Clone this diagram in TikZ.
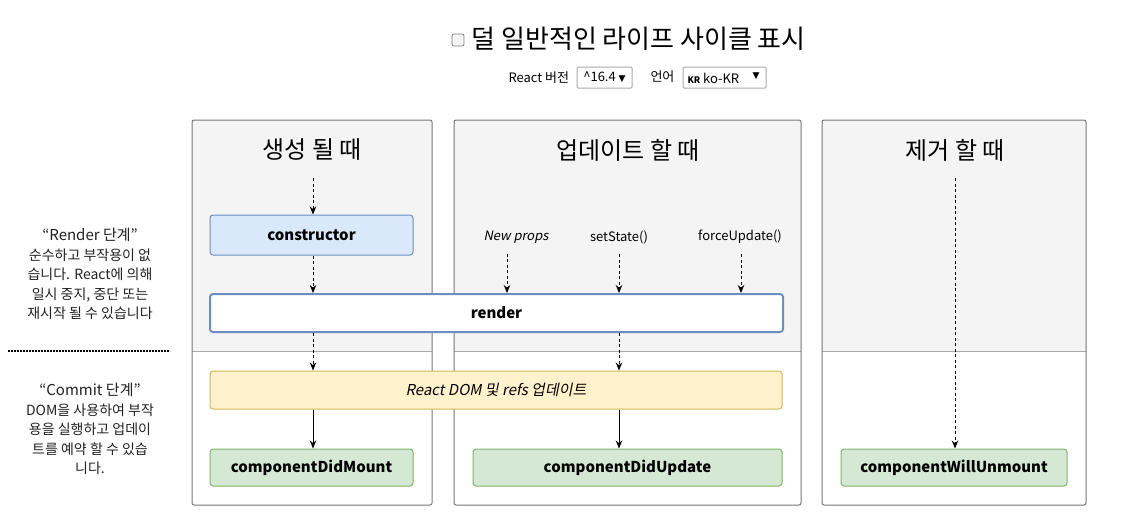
\documentclass[tikz,border=0pt]{standalone}
\usepackage{fontspec}
\setmainfont{Noto Sans CJK KR}[AutoFakeSlant=0.2]
\newfontfamily\symfont{DejaVu Sans}
\usetikzlibrary{arrows.meta}
\definecolor{panelgray}{HTML}{F4F4F4}
\definecolor{panelline}{HTML}{777777}
\definecolor{divline}{HTML}{AAAAAA}
\definecolor{bluefill}{HTML}{DAE8FC}
\definecolor{bluedraw}{HTML}{6C8EBF}
\definecolor{yellowfill}{HTML}{FFF2CC}
\definecolor{yellowdraw}{HTML}{D6B656}
\definecolor{greenfill}{HTML}{D5E8D4}
\definecolor{greendraw}{HTML}{82B366}
\definecolor{textgray}{HTML}{222222}
\tikzset{
	panel/.style = {
		draw=panelline,
		rounded corners=2pt,
		line width=1pt
	},
	stage/.style = {
		align=center,
		inner sep=0pt,
		rounded corners=3pt,
		line width=1pt,
		font=\fontsize{15}{18}\selectfont\bfseries
	},
	node_ctor/.style = {
		stage,
		draw=bluedraw,
		fill=bluefill,
		minimum width=203pt,
		minimum height=40pt
	},
	node_render/.style = {
		stage,
		draw=bluedraw,
		fill=white,
		line width=2pt,
		minimum width=573pt,
		minimum height=38pt
	},
	node_dom/.style = {
		stage,
		draw=yellowdraw,
		fill=yellowfill,
		font=\fontsize{15}{18}\selectfont\itshape,
		minimum width=572pt,
		minimum height=38pt
	},
	node_did/.style = {
		stage,
		draw=greendraw,
		fill=greenfill,
		minimum height=37pt
	},
	title/.style = {
		font=\fontsize{24}{28}\selectfont,
		inner sep=0pt
	},
	trigger/.style = {
		font=\fontsize{13}{16}\selectfont,
		inner sep=1pt
	},
	phase/.style = {
		align=center,
		inner sep=0pt,
		text=textgray,
		font=\fontsize{14}{19.5}\selectfont
	},
	selectbox/.style = {
		draw=divline,
		fill=white,
		rounded corners=1pt,
		inner sep=0pt,
		font=\fontsize{13}{15}\selectfont
	},
	dasharrow/.style = {
		->, dashed, dash pattern=on 3pt off 2.5pt
	},
	fullarrow/.style = {
		->
	}
}

\begin{document}
\begin{tikzpicture}[x=1pt,y=-1pt,>={Stealth[length=8pt,width=6.5pt]},line width=1pt]
\useasboundingbox (0,0) rectangle (1138,530);
\fill[white] (0,0) rectangle (1138,530);

% header
\node[draw=gray,fill=panelgray,rounded corners=2pt,minimum size=12pt,inner sep=0pt,line width=0.8pt] (check) at (458,40) {};
\node[title,anchor=west,font=\fontsize{26}{28}\selectfont] (head) at (471,39) {덜 일반적인 라이프 사이클 표시};
\node[trigger,anchor=west,font=\fontsize{13}{15}\selectfont] (ver) at (507,78) {React 버전};
\node[selectbox,minimum width=55pt,minimum height=21pt] (verbox) at (604.5,77.5) {\textasciicircum16.4 {\symfont\fontsize{9}{10}\selectfont▼}};
\node[trigger,anchor=west,font=\fontsize{13}{15}\selectfont] (lang) at (649,77) {언어};
\node[selectbox,minimum width=83pt,minimum height=21pt] (langbox) at (724.5,77.5) {};
\node[anchor=west,inner sep=0pt,font=\fontsize{13}{15}\selectfont] at (687,78) {{\fontsize{9}{10}\selectfont\bfseries KR} ko-KR};
\node[inner sep=0pt,font=\symfont\fontsize{9}{10}\selectfont] at (756,76) {▼};

% panels
\foreach \xa/\xb in {192/432, 454/801, 822/1086} {
	\fill[panelgray] (\xa,120) rectangle (\xb,351);
	\draw[divline] (\xa,351) -- (\xb,351);
	\draw[panel] (\xa,120) rectangle (\xb,505);
}
\node[title] (mount) at (312,150) {생성 될 때};
\node[title] (update) at (628,150) {업데이트 할 때};
\node[title] (unmount) at (955,150) {제거 할 때};

% phases
\node[phase,font=\fontsize{15}{19}\selectfont] (render_h) at (90,235) {“Render 단계”};
\node[phase,anchor=north] (render_t) at (90,248) {순수하고 부작용이 없\\습니다. React에 의해\\일시 중지, 중단 또는\\재시작 될 수 있습니다};
\draw[line width=2pt,dash pattern=on 2pt off 1pt] (8,351) -- (170,351);
\node[phase,font=\fontsize{15}{19}\selectfont] (commit_h) at (90,390) {“Commit 단계”};
\node[phase,anchor=north] (commit_t) at (90,403) {DOM을 사용하여 부작\\용을 실행하고 업데이\\트를 예약 할 수 있습\\니다.};

% stages
\node[node_ctor] (ctor) at (311.5,235) {constructor};
\node[node_render] (render) at (496.5,313) {render};
\node[node_dom] (dom) at (496,390) {React DOM 및 refs 업데이트};
\node[node_did,minimum width=203pt] (didmount) at (311.5,467.5) {componentDidMount};
\node[node_did,minimum width=309pt] (didupdate) at (627.5,467.5) {componentDidUpdate};
\node[node_did,minimum width=226pt] (willunmount) at (954,467.5) {componentWillUnmount};

\node[trigger,font=\fontsize{13}{16}\selectfont\itshape] (props) at (516,237) {New props};
\node[trigger] (state) at (619,237) {setState()};
\node[trigger] (force) at (740,237) {forceUpdate()};

\coordinate (m0) at (313,178);
\coordinate (u0) at (955,178);

% mount
\draw[dasharrow] (m0) -- (m0 |- ctor.north);
\draw[dasharrow] (m0 |- ctor.south) -- (m0 |- render.north);
\draw[dasharrow] (m0 |- render.south) -- (m0 |- dom.north);
\draw[fullarrow] (m0 |- dom.south) -- (m0 |- didmount.north);

% update
\draw[dasharrow, shorten <=9pt] (props.south -| 507,0) -- (507,0 |- render.north);
\draw[dasharrow, shorten <=9pt] (state.south) -- (state |- render.north);
\draw[dasharrow, shorten <=9pt] (force.south -| 741,0) -- (741,0 |- render.north);
\draw[dasharrow] (state |- render.south) -- (state |- dom.north);
\draw[fullarrow] (state |- dom.south) -- (state |- didupdate.north);

% unmount
\draw[dasharrow] (u0) -- (u0 |- willunmount.north);
\end{tikzpicture}
\end{document}
